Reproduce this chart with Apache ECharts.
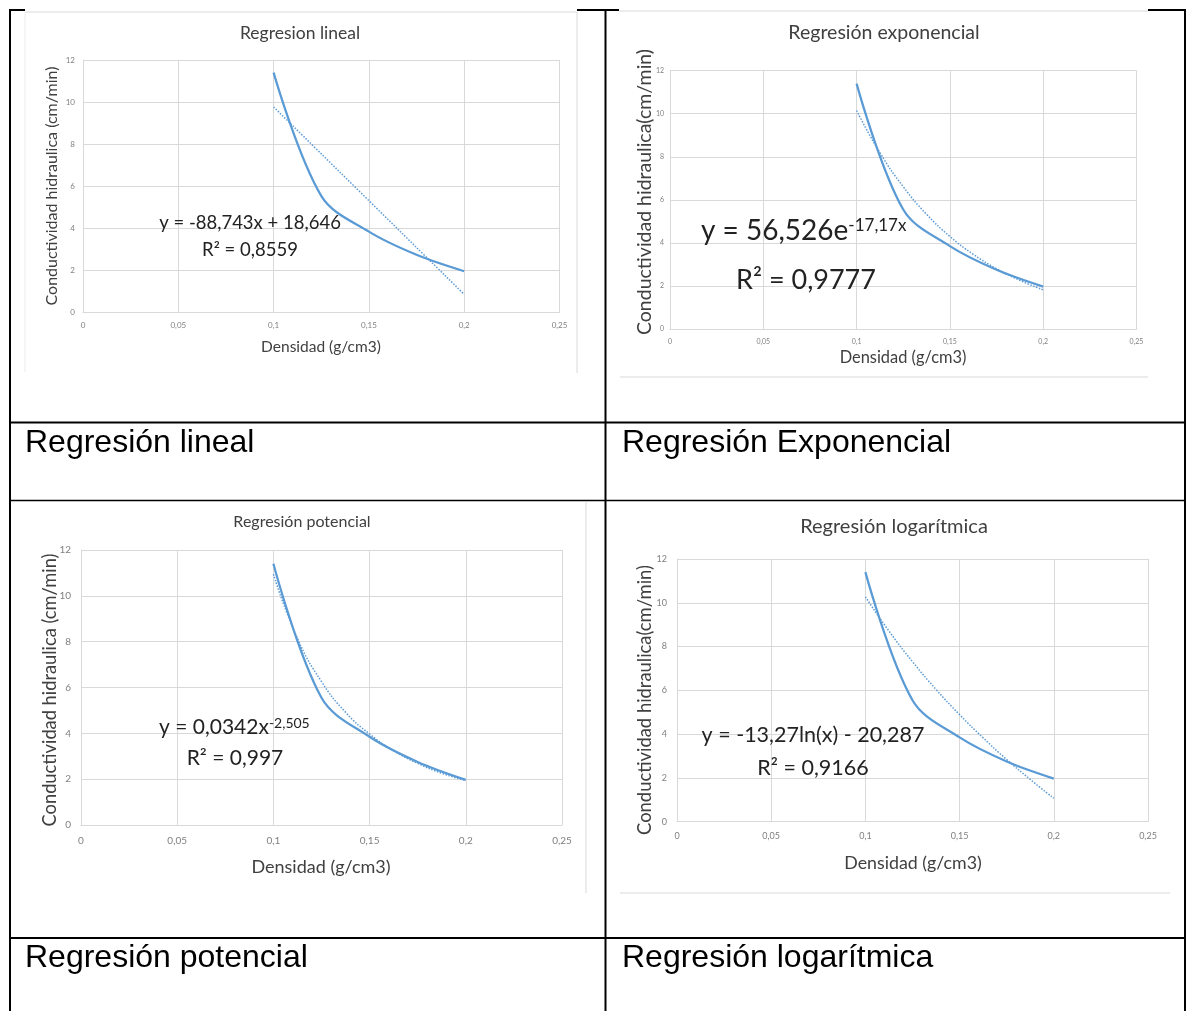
<!DOCTYPE html>
<html><head><meta charset="utf-8">
<script src="https://cdn.jsdelivr.net/npm/echarts@6/dist/echarts.min.js"></script>
<style>html,body{margin:0;padding:0;background:#fff}#c{width:1187px;height:1011px}</style>
</head><body><div id="c"></div>
<script>
// ---- data ----
const densidad = [0.1, 0.125, 0.15, 0.175, 0.2];
const conductividad = [11.4, 5.55, 3.85, 2.75, 1.97];
const linealX = [0.1, 0.2];
const linealY = [9.77, 0.87];
const trendX = [0.1, 0.1125, 0.125, 0.1375, 0.15, 0.1625, 0.175, 0.1875, 0.2];
const exponencialY = [10.15, 8.19, 6.61, 5.33, 4.30, 3.47, 2.80, 2.26, 1.82];
const potencialY = [10.94, 8.14, 6.26, 4.92, 3.97, 3.24, 2.69, 2.26, 1.94];
const logaritmicaY = [10.27, 8.71, 7.31, 6.04, 4.89, 3.83, 2.84, 1.93, 1.07];
const xTickLabels = ['0', '0,05', '0,1', '0,15', '0,2', '0,25'];
const yTickLabels = ['0', '2', '4', '6', '8', '10', '12'];
const chartTitles = ['Regresion lineal', 'Regresión exponencial', 'Regresión potencial', 'Regresión logarítmica'];
const cellLabels = ['Regresión lineal', 'Regresión Exponencial', 'Regresión potencial', 'Regresión logarítmica'];
const yAxisNames = ['Conductividad hidraulica (cm/min)', 'Conductividad hidraulica(cm/min)', 'Conductividad hidraulica (cm/min)', 'Conductividad hidraulica(cm/min)'];
const xAxisName = 'Densidad (g/cm3)';
const eqMain = ['y = -88,743x + 18,646', 'y = 56,526e', 'y = 0,0342x', 'y = -13,27ln(x) - 20,287'];
const eqSup = ['', '-17,17x', '-2,505', ''];
const r2Text = ['R² = 0,8559', 'R² = 0,9777', 'R² = 0,997', 'R² = 0,9166'];

// ---- layout ----
const F = 'Lato, "Open Sans", sans-serif';
const BLUE = '#5b9bd5';
const GRID = '#d9d9d9';
const panels = [
  {grid:{left:83, right:627.5, top:60, bottom:698.3}, tick:8, xm:9, ym:8,
   title:[300,33,17.5], yname:[52,186,16], xname:[321,347,15.5], eq:[250,223,18.5,0,'center'], r2:[250,250,18.5]},
  {grid:{left:670, right:50.5, top:70.7, bottom:682}, tick:7, xm:9, ym:6,
   title:[884,33,19.5], yname:[645,192,19.5], xname:[903,358,16.4], eq:[701,231,28,17,'left'], r2:[806,280,27]},
  {grid:{left:81, right:625, top:550, bottom:186}, tick:10, xm:11, ym:10,
   title:[302,522,16], yname:[50,690,18.3], xname:[321,867,18], eq:[159,727,21,14,'left'], r2:[235,758,21]},
  {grid:{left:677, right:39, top:559, bottom:189.3}, tick:9, xm:10, ym:10,
   title:[894,527,20], yname:[645,700,18.4], xname:[913,863,17.8], eq:[813,735,21.5,0,'center'], r2:[813,768,21.5]}
];
const trendY = [null, exponencialY, potencialY, logaritmicaY];

const option = {
  animation:false,
  backgroundColor:'#fff',
  grid: panels.map(p => p.grid),
  xAxis: panels.map((p,i) => ({
    gridIndex:i, type:'value', min:0, max:0.25, interval:0.05,
    axisLine:{show:true, lineStyle:{color:GRID, width:1}},
    axisTick:{show:false},
    splitLine:{show:true, lineStyle:{color:GRID, width:1}},
    axisLabel:{margin:p.xm, fontSize:p.tick, color:'#808080', fontFamily:F,
      formatter: v => xTickLabels[Math.round(v/0.05)]}
  })),
  yAxis: panels.map((p,i) => ({
    gridIndex:i, type:'value', min:0, max:12, interval:2,
    axisLine:{show:true, lineStyle:{color:GRID, width:1}},
    axisTick:{show:false},
    splitLine:{show:true, lineStyle:{color:GRID, width:1}},
    axisLabel:{margin:p.ym, fontSize:p.tick, color:'#808080', fontFamily:F,
      formatter: v => yTickLabels[Math.round(v/2)]}
  })),
  series: []
};
panels.forEach((p,i) => {
  option.series.push({
    type:'line', xAxisIndex:i, yAxisIndex:i, smooth:0.35, symbol:'none',
    lineStyle:{color:BLUE, width:2.25},
    data: densidad.map((x,j) => [x, conductividad[j]])
  });
  const tx = i === 0 ? linealX : trendX;
  const ty = i === 0 ? linealY : trendY[i];
  option.series.push({
    type:'line', xAxisIndex:i, yAxisIndex:i, smooth:true, symbol:'none',
    lineStyle:{color:BLUE, width:1.5, type:'dotted'},
    data: tx.map((x,j) => [x, ty[j]])
  });
});

const g = [];
const line = (x1,y1,x2,y2,c,w) => g.push({type:'line', silent:true, shape:{x1,y1,x2,y2}, style:{stroke:c, lineWidth:w}, z:10});
// chart image edges (light gray)
line(25,12,577,12,GRID,1); line(25,12,25,372,'#ececec',1); line(577,12,577,373,GRID,1);
line(619,11,1148,11,GRID,1); line(620,377,1148,377,GRID,1);
line(586,502,586,893,GRID,1);
line(620,893,1170,893,GRID,1);
// table borders
const K = '#000';
line(9,10,25,10,K,2); line(577,10,619,10,K,2); line(1148,10,1186,10,K,2);
line(10,9,10,1011,K,2); line(605.5,9,605.5,1011,K,2); line(1185,9,1185,1011,K,2);
line(9,422.5,1186,422.5,K,2); line(9,500.5,1186,500.5,K,1.5); line(9,938,1186,938,K,2);
// cell labels
const cellPos = [[25,443],[622,443],[25,958],[622,958]];
cellLabels.forEach((t,i) => g.push({type:'text', x:cellPos[i][0], y:cellPos[i][1], z:10,
  style:{text:t, fontFamily:'"Liberation Sans", Arial, sans-serif', fontSize:32, fill:'#000', verticalAlign:'middle', align:'left'}}));
// chart texts
panels.forEach((p,i) => {
  g.push({type:'text', x:p.title[0], y:p.title[1], z:10, style:{text:chartTitles[i], fontFamily:F, fontSize:p.title[2], fill:'#404040', align:'center', verticalAlign:'middle'}});
  g.push({type:'text', x:p.xname[0], y:p.xname[1], z:10, style:{text:xAxisName, fontFamily:F, fontSize:p.xname[2], fill:'#404040', align:'center', verticalAlign:'middle'}});
  g.push({type:'text', x:p.yname[0], y:p.yname[1], rotation:Math.PI/2, z:10, style:{text:yAxisNames[i], fontFamily:F, fontSize:p.yname[2], fill:'#404040', align:'center', verticalAlign:'middle'}});
  const e = p.eq;
  const txt = eqSup[i] ? '{a|' + eqMain[i] + '}{s|' + eqSup[i] + '}' : '{a|' + eqMain[i] + '}';
  g.push({type:'text', x:e[0], y:e[1], z:10, style:{text:txt, align:e[4], verticalAlign:'middle',
    rich:{a:{fontFamily:F, fontSize:e[2], fill:'#222', verticalAlign:'bottom'}, s:{fontFamily:F, fontSize:e[3]||10, fill:'#222', verticalAlign:'top'}}}});
  g.push({type:'text', x:p.r2[0], y:p.r2[1], z:10, style:{text:r2Text[i], fontFamily:F, fontSize:p.r2[2], fill:'#222', align:'center', verticalAlign:'middle'}});
});
option.graphic = g;

echarts.init(document.getElementById('c'), null, {renderer:'canvas'}).setOption(option);
</script>
</body></html>
